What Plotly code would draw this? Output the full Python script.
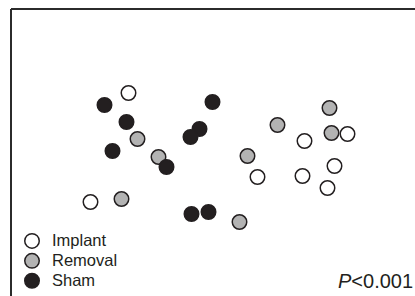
import plotly.graph_objects as go

# NMDS ordination scores (arbitrary units)
implant_x = [-0.79, 1.40, 0.97, 0.50, 0.95, 1.27, 1.20, -1.17]
implant_y = [0.55, 0.14, 0.07, -0.29, -0.28, -0.18, -0.40, -0.54]

removal_x = [-0.70, 0.70, 1.22, 1.24, -0.49, 0.40, -0.86, 0.32]
removal_y = [0.09, 0.23, 0.40, 0.15, -0.09, -0.08, -0.51, -0.74]

sham_x = [-1.03, -0.81, -0.95, 0.05, -0.08, -0.17, -0.41, -0.16, 0.01]
sham_y = [0.43, 0.26, -0.03, 0.46, 0.19, 0.11, -0.19, -0.66, -0.64]

group_names = ["Implant", "Removal", "Sham"]
p_label = "<i>P</i>&lt;0.001"

edge = "#231f20"
fills = ["#ffffff", "#b3b3b3", "#231f20"]

fig = go.Figure()
for name, xs, ys, fc in zip(group_names,
                            [implant_x, removal_x, sham_x],
                            [implant_y, removal_y, sham_y],
                            fills):
    fig.add_trace(go.Scatter(
        x=xs, y=ys, mode="markers",
        name='<span style="font-size:16.5px">%s</span>' % name,
        marker=dict(size=14.5, color=fc, line=dict(color=edge, width=1.5)),
        cliponaxis=False,
    ))

fig.update_layout(
    width=415, height=296,
    margin=dict(l=0, r=0, t=0, b=0, autoexpand=False),
    paper_bgcolor="white", plot_bgcolor="white",
    font=dict(family="Liberation Sans, Arial, sans-serif", color="#231f20"),
    xaxis=dict(range=[-2.075, 2.075], visible=False, fixedrange=True),
    yaxis=dict(range=[-1.48, 1.48], visible=False, fixedrange=True),
    showlegend=True,
    legend=dict(
        x=12 / 415, y=0, xanchor="left", yanchor="bottom",
        font=dict(size=13, color="#231f20"),
        bgcolor="rgba(0,0,0,0)", borderwidth=0,
        tracegroupgap=0, itemsizing="trace",
    ),
    shapes=[
        dict(type="line", xref="paper", yref="paper",
             x0=11 / 415, x1=1.02, y0=1 - 9 / 296, y1=1 - 9 / 296,
             line=dict(color="#2b2b2b", width=2)),
        dict(type="line", xref="paper", yref="paper",
             x0=11 / 415, x1=11 / 415, y0=-0.02, y1=1 - 9 / 296,
             line=dict(color="#2b2b2b", width=2)),
    ],
    annotations=[
        dict(text=p_label, xref="paper", yref="paper",
             x=1.0, y=1 - 281 / 296, xanchor="right", yanchor="middle",
             showarrow=False, font=dict(size=20, color="#231f20")),
    ],
)

fig.write_html(
    "out.html",
    config={"displayModeBar": False},
    post_script="document.body.style.margin='0';document.body.style.overflow='hidden';",
)
